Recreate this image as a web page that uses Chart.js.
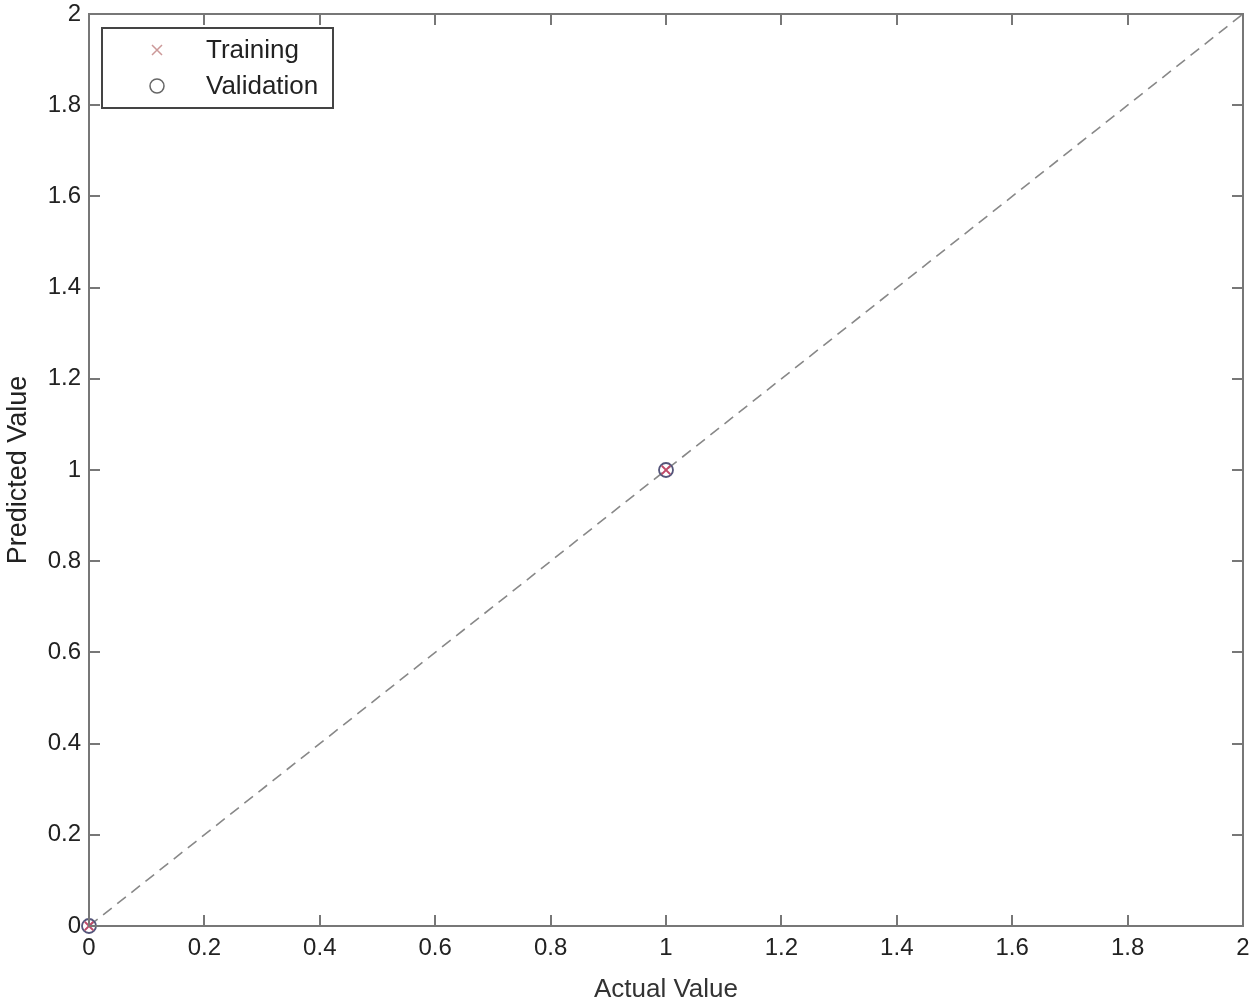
<!DOCTYPE html>
<html>
<head>
<meta charset="utf-8">
<script src="https://cdn.jsdelivr.net/npm/chart.js@4/dist/chart.umd.min.js"></script>
<style>
  html, body { margin: 0; padding: 0; background: #fff; }
  #wrap { width: 1255px; height: 1002px; }
</style>
</head>
<body>
<div id="wrap"><canvas id="chart" width="1255" height="1002"></canvas></div>
<script>
// data
var trainActual = [0, 1];
var trainPredicted = [0, 1];
var validActual = [0, 1];
var validPredicted = [0, 1];
var idealLine = [0, 2];
var tickValues = [0, 0.2, 0.4, 0.6, 0.8, 1, 1.2, 1.4, 1.6, 1.8, 2];

function toPoints(xs, ys) {
  return xs.map(function(x, i) { return { x: x, y: ys[i] }; });
}

// box round the plot with inward ticks, matlab style
var boxPlugin = {
  id: "box",
  afterDraw: function(chart) {
    var ctx = chart.ctx;
    var a = chart.chartArea;
    var xs = chart.scales.x, ys = chart.scales.y;
    ctx.save();
    ctx.strokeStyle = "#777";
    ctx.lineWidth = 2;
    ctx.strokeRect(a.left, a.top, a.right - a.left, a.bottom - a.top);
    ctx.beginPath();
    tickValues.forEach(function(v) {
      var px = Math.round(xs.getPixelForValue(v));
      ctx.moveTo(px, a.bottom); ctx.lineTo(px, a.bottom - 11);
      ctx.moveTo(px, a.top); ctx.lineTo(px, a.top + 11);
      var py = Math.round(ys.getPixelForValue(v));
      ctx.moveTo(a.left, py); ctx.lineTo(a.left + 11, py);
      ctx.moveTo(a.right, py); ctx.lineTo(a.right - 11, py);
    });
    ctx.stroke();

    // legend
    var lx = 102, ly = 28, lw = 231, lh = 80;
    ctx.fillStyle = "#fff";
    ctx.fillRect(lx, ly, lw, lh);
    ctx.strokeStyle = "#444";
    ctx.lineWidth = 2;
    ctx.strokeRect(lx, ly, lw, lh);
    ctx.fillStyle = "#222";
    ctx.font = "26px 'Liberation Sans', Arial, sans-serif";
    ctx.textBaseline = "middle";
    ctx.fillText("Training", 206, 51);
    ctx.fillText("Validation", 206, 87);
    ctx.strokeStyle = "#c99";
    ctx.lineWidth = 1.5;
    ctx.beginPath();
    ctx.moveTo(152, 45); ctx.lineTo(162, 55);
    ctx.moveTo(162, 45); ctx.lineTo(152, 55);
    ctx.stroke();
    ctx.strokeStyle = "#666";
    ctx.beginPath();
    ctx.arc(157, 86, 7, 0, Math.PI * 2);
    ctx.stroke();
    ctx.restore();
  }
};

var fontFamily = "'Liberation Sans', Arial, sans-serif";

new Chart(document.getElementById("chart"), {
  type: "scatter",
  data: {
    datasets: [
      {
        label: "Ideal",
        data: toPoints(idealLine, idealLine),
        showLine: true,
        borderColor: "#888",
        borderWidth: 1.6,
        borderDash: [11, 7],
        pointRadius: 0,
        order: 3
      },
      {
        label: "Validation",
        data: toPoints(validActual, validPredicted),
        pointStyle: "circle",
        pointRadius: 7,
        borderColor: "#55557a",
        backgroundColor: "rgba(0,0,0,0)",
        borderWidth: 1.8,
        clip: false,
        order: 2
      },
      {
        label: "Training",
        data: toPoints(trainActual, trainPredicted),
        pointStyle: "crossRot",
        pointRadius: 6,
        borderColor: "#c04a6a",
        borderWidth: 1.8,
        clip: false,
        order: 1
      }
    ]
  },
  options: {
    responsive: false,
    animation: false,
    layout: { padding: { top: 14, right: 12, left: 0, bottom: 0 } },
    plugins: { legend: { display: false }, tooltip: { enabled: false } },
    scales: {
      x: {
        type: "linear",
        min: 0, max: 2,
        afterBuildTicks: function(s) { s.ticks = tickValues.map(function(v) { return { value: v }; }); },
        afterFit: function(s) { s.height = 76; s.paddingLeft = 0; s.paddingRight = 0; },
        grid: { display: false, drawTicks: false },
        border: { display: false },
        ticks: {
          padding: 8,
          color: "#222",
          font: { family: fontFamily, size: 24 },
          maxRotation: 0,
          callback: function(v) { return String(v); }
        },
        title: {
          display: true,
          text: "Actual Value",
          color: "#333",
          font: { family: fontFamily, size: 26 },
          padding: { top: 13, bottom: -3 }
        }
      },
      y: {
        type: "linear",
        min: 0, max: 2,
        afterBuildTicks: function(s) { s.ticks = tickValues.map(function(v) { return { value: v }; }); },
        afterFit: function(s) { s.width = 89; s.paddingTop = 0; s.paddingBottom = 0; },
        grid: { display: false, drawTicks: false },
        border: { display: false },
        ticks: {
          padding: 8,
          color: "#222",
          font: { family: fontFamily, size: 24 },
          callback: function(v) { return String(v); }
        },
        title: {
          display: true,
          text: "Predicted Value",
          color: "#222",
          font: { family: fontFamily, size: 27 },
          padding: { top: 2, bottom: 4 }
        }
      }
    }
  },
  plugins: [boxPlugin]
});
</script>
</body>
</html>
